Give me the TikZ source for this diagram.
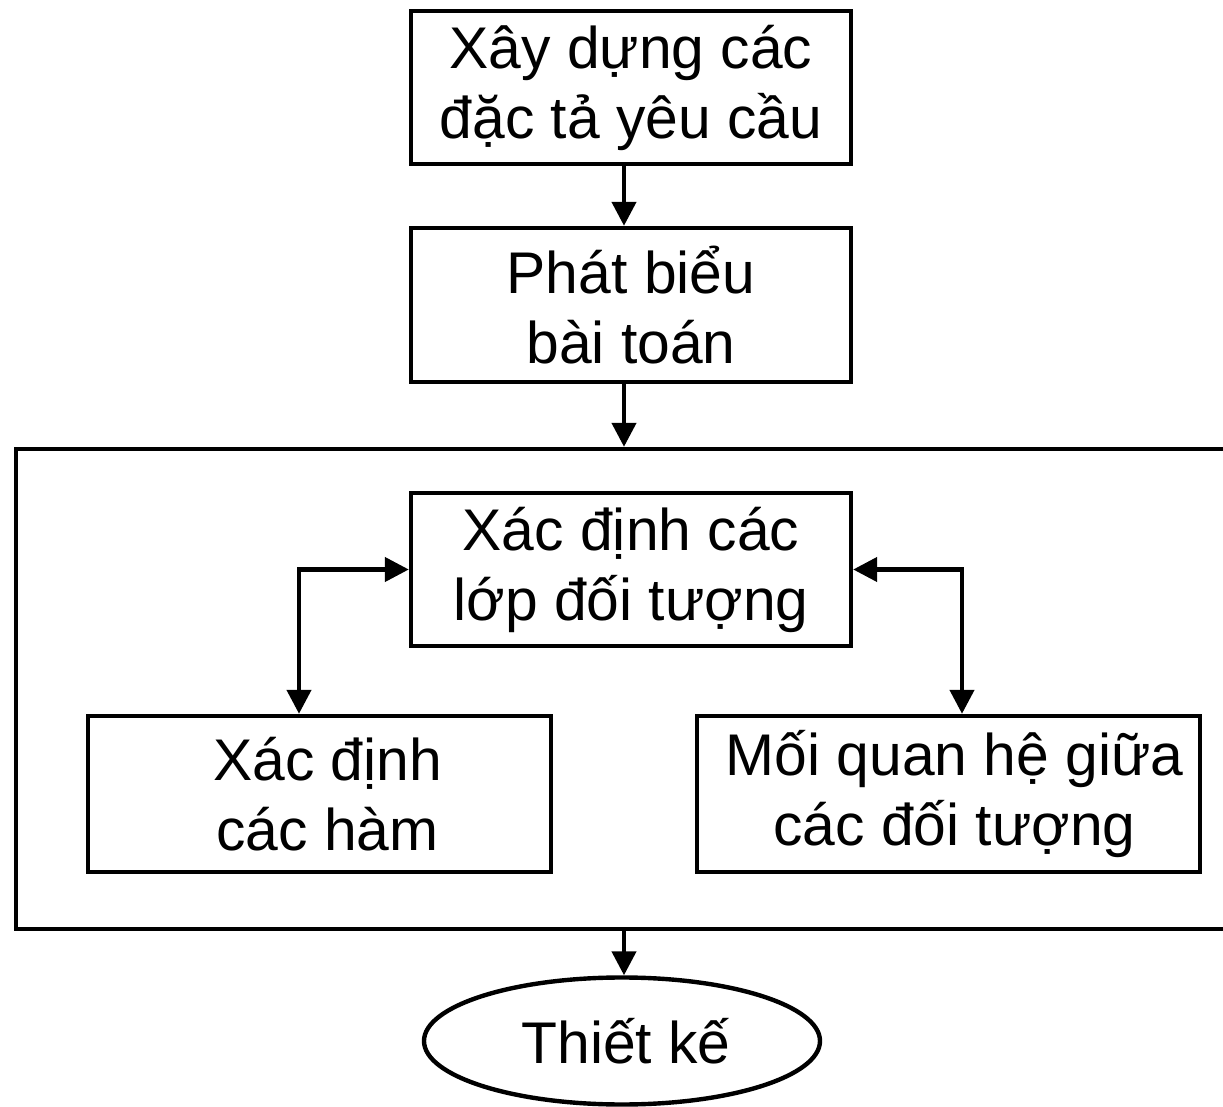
\documentclass[tikz,border=0pt]{standalone}
\usepackage{fontspec}
\setmainfont{Liberation Sans}
\usetikzlibrary{arrows.meta,shapes.geometric}
\begin{document}
\begin{tikzpicture}[x=0.5pt,y=-0.5pt,
  box/.style={draw,line width=2.2pt,rectangle,inner sep=0pt,align=center,
    font=\fontsize{29.4}{35}\selectfont},
  oval/.style={draw,line width=2.2pt,ellipse,inner sep=0pt,
    font=\fontsize{29.4}{35}\selectfont},
  frame/.style={draw,line width=2.2pt,rectangle,inner sep=0pt},
  link/.style={line width=2.2pt,-{Triangle[length=12pt,width=12pt]}},
  biglink/.style={line width=2.2pt,{Triangle[length=12pt,width=12pt]}-{Triangle[length=12pt,width=12pt]}}]
\useasboundingbox (0,0) rectangle (1223,1107);
\clip (0,0) rectangle (1223,1107);

% main flow
\node[box,minimum width=220pt,minimum height=76.5pt] (spec) at (631,87.5)
  {Xây dựng các\\đặc tả yêu cầu};
\node[box,minimum width=220pt,minimum height=77pt] (prob) at (631,305)
  {Phát biểu\\bài toán};

% analysis group
\node[frame,minimum width=612pt,minimum height=240pt] (group) at (628,689) {};
\node[box,minimum width=220pt,minimum height=76.5pt] (cls) at (631,569.5)
  {Xác định các\\lớp đối tượng};
\node[box,minimum width=231.5pt,minimum height=78pt] (fun) at (319.5,794)
  {\hspace*{8pt}Xác định\\\hspace*{8pt}các hàm};
\node[box,minimum width=251.5pt,minimum height=78pt] (rel) at (948.5,794)
  {\hspace*{6pt}Mối quan hệ giữa\\\hspace*{6pt}các đối tượng};

\node[oval,minimum width=198pt,minimum height=63.5pt] (design) at (622,1041)
  {\hspace*{4pt}Thiết kế};

% connector guides
\coordinate (mx) at (624,0);
\coordinate (lx) at (299,0);
\coordinate (rx) at (962,0);

\draw[link] (spec.south -| mx) -- (prob.north -| mx);
\draw[link] (prob.south -| mx) -- (group.north -| mx);
\draw[link] (group.south -| mx) -- (design.north -| mx);
\draw[biglink] (fun.north -| lx) |- (cls.west);
\draw[biglink] (rel.north -| rx) |- (cls.east);
\end{tikzpicture}
\end{document}
